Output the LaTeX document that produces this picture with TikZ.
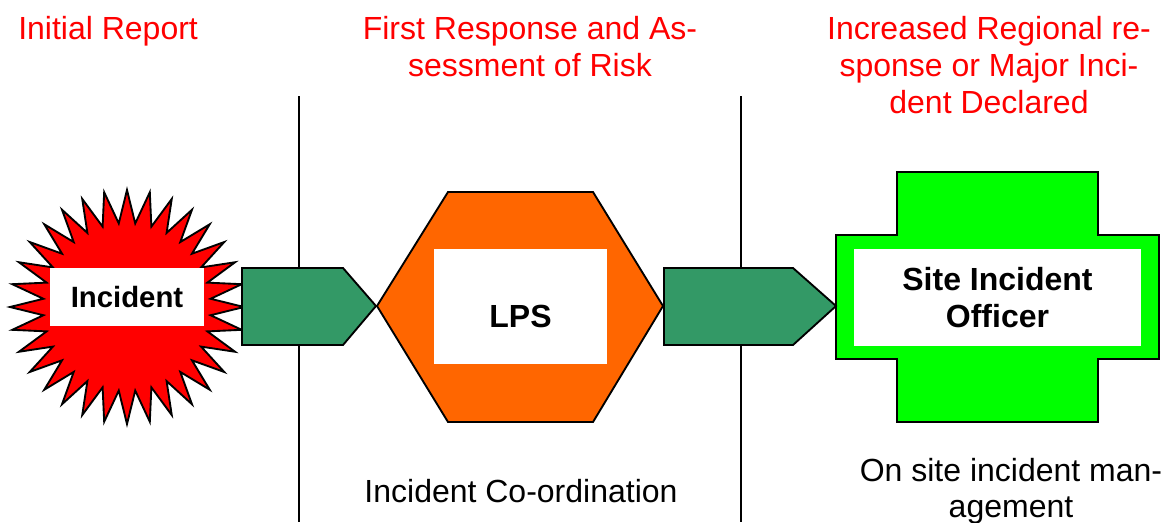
\documentclass[tikz,border=0pt]{standalone}
\usepackage{fontspec}
\setmainfont{Liberation Sans}
\usetikzlibrary{calc}
\definecolor{flowgreen}{HTML}{339966}
\definecolor{lpsorange}{HTML}{FF6600}
\definecolor{sitegreen}{HTML}{00FF00}
\begin{document}
\begin{tikzpicture}[x=0.75pt,y=-0.75pt,
  hdr/.style={text=red,font=\fontsize{24}{27.75}\selectfont,inner sep=0,anchor=base},
  note/.style={text=black,font=\fontsize{24}{27.75}\selectfont,inner sep=0,anchor=base},
  outline/.style={draw=black,line width=1.4pt,line join=miter},
  flow/.style={outline,fill=flowgreen},
  whitebox/.style={fill=white,inner sep=0,align=center,font=\bfseries\fontsize{24}{27.75}\selectfont},
  sepline/.style={draw=black,line width=1.1pt}]
\useasboundingbox (0,0) rectangle (1167,522);
% column separators
\coordinate (sepAtop) at (299,96);
\coordinate (sepAbot) at (299,522);
\coordinate (sepBtop) at (741,96);
\coordinate (sepBbot) at (741,522);
\draw[sepline] (sepAtop) -- (sepAbot);
\draw[sepline] (sepBtop) -- (sepBbot);
% headers
\node[hdr,anchor=base west] (hA) at (18,39) {Initial Report};
\node[hdr] (hB1) at (530,39) {First Response and As-};
\node[hdr] (hB2) at (530,76) {sessment of Risk};
\node[hdr] (hC1) at (989,39) {Increased Regional re-};
\node[hdr] (hC2) at (989,76) {sponse or Major Inci-};
\node[hdr] (hC3) at (989,113) {dent Declared};
% starburst
\coordinate (burst) at (127,307);
\draw[outline,fill=red] ($(burst)+(0:117)$)
  \foreach \i [evaluate=\i as \r using {mod(\i,2)==0 ? 117 : 84}] in {1,...,63} { -- ($(burst)+({\i*5.625}:\r)$) } -- cycle;
% hexagon
\draw[outline,fill=lpsorange] (377,306) -- (448,192) -- (593,192) -- (663,306) -- (593,422) -- (448,422) -- cycle;
% cross
\draw[outline,fill=sitegreen] (897,172) -- (1098,172) -- (1098,235) -- (1159,235) -- (1159,359) -- (1098,359) -- (1098,422) -- (897,422) -- (897,359) -- (836,359) -- (836,235) -- (897,235) -- cycle;
% flow arrows
\draw[flow] (242,268) -- (343,268) -- (376,306) -- (343,345) -- (242,345) -- cycle;
\draw[flow] (664,268) -- (793,268) -- (836,306) -- (793,345) -- (664,345) -- cycle;
% white boxes
\node[whitebox,font=\bfseries\fontsize{22}{26}\selectfont,minimum width=115.5pt,minimum height=43.5pt] (incident) at (127,297) {Incident};
\node[whitebox,minimum width=129.75pt,text height=58.5pt,text depth=27.75pt] (lps) at (520.5,306.5) {LPS};
\node[whitebox,minimum width=215.25pt,minimum height=72.75pt] (sio) at (997.5,297.5) {Site Incident\\Officer};
% bottom notes
\node[note] (nB) at (521,502) {Incident Co-ordination};
\node[note] (nC1) at (1011,481) {On site incident man-};
\node[note] (nC2) at (1011,517) {agement};
\end{tikzpicture}
\end{document}
